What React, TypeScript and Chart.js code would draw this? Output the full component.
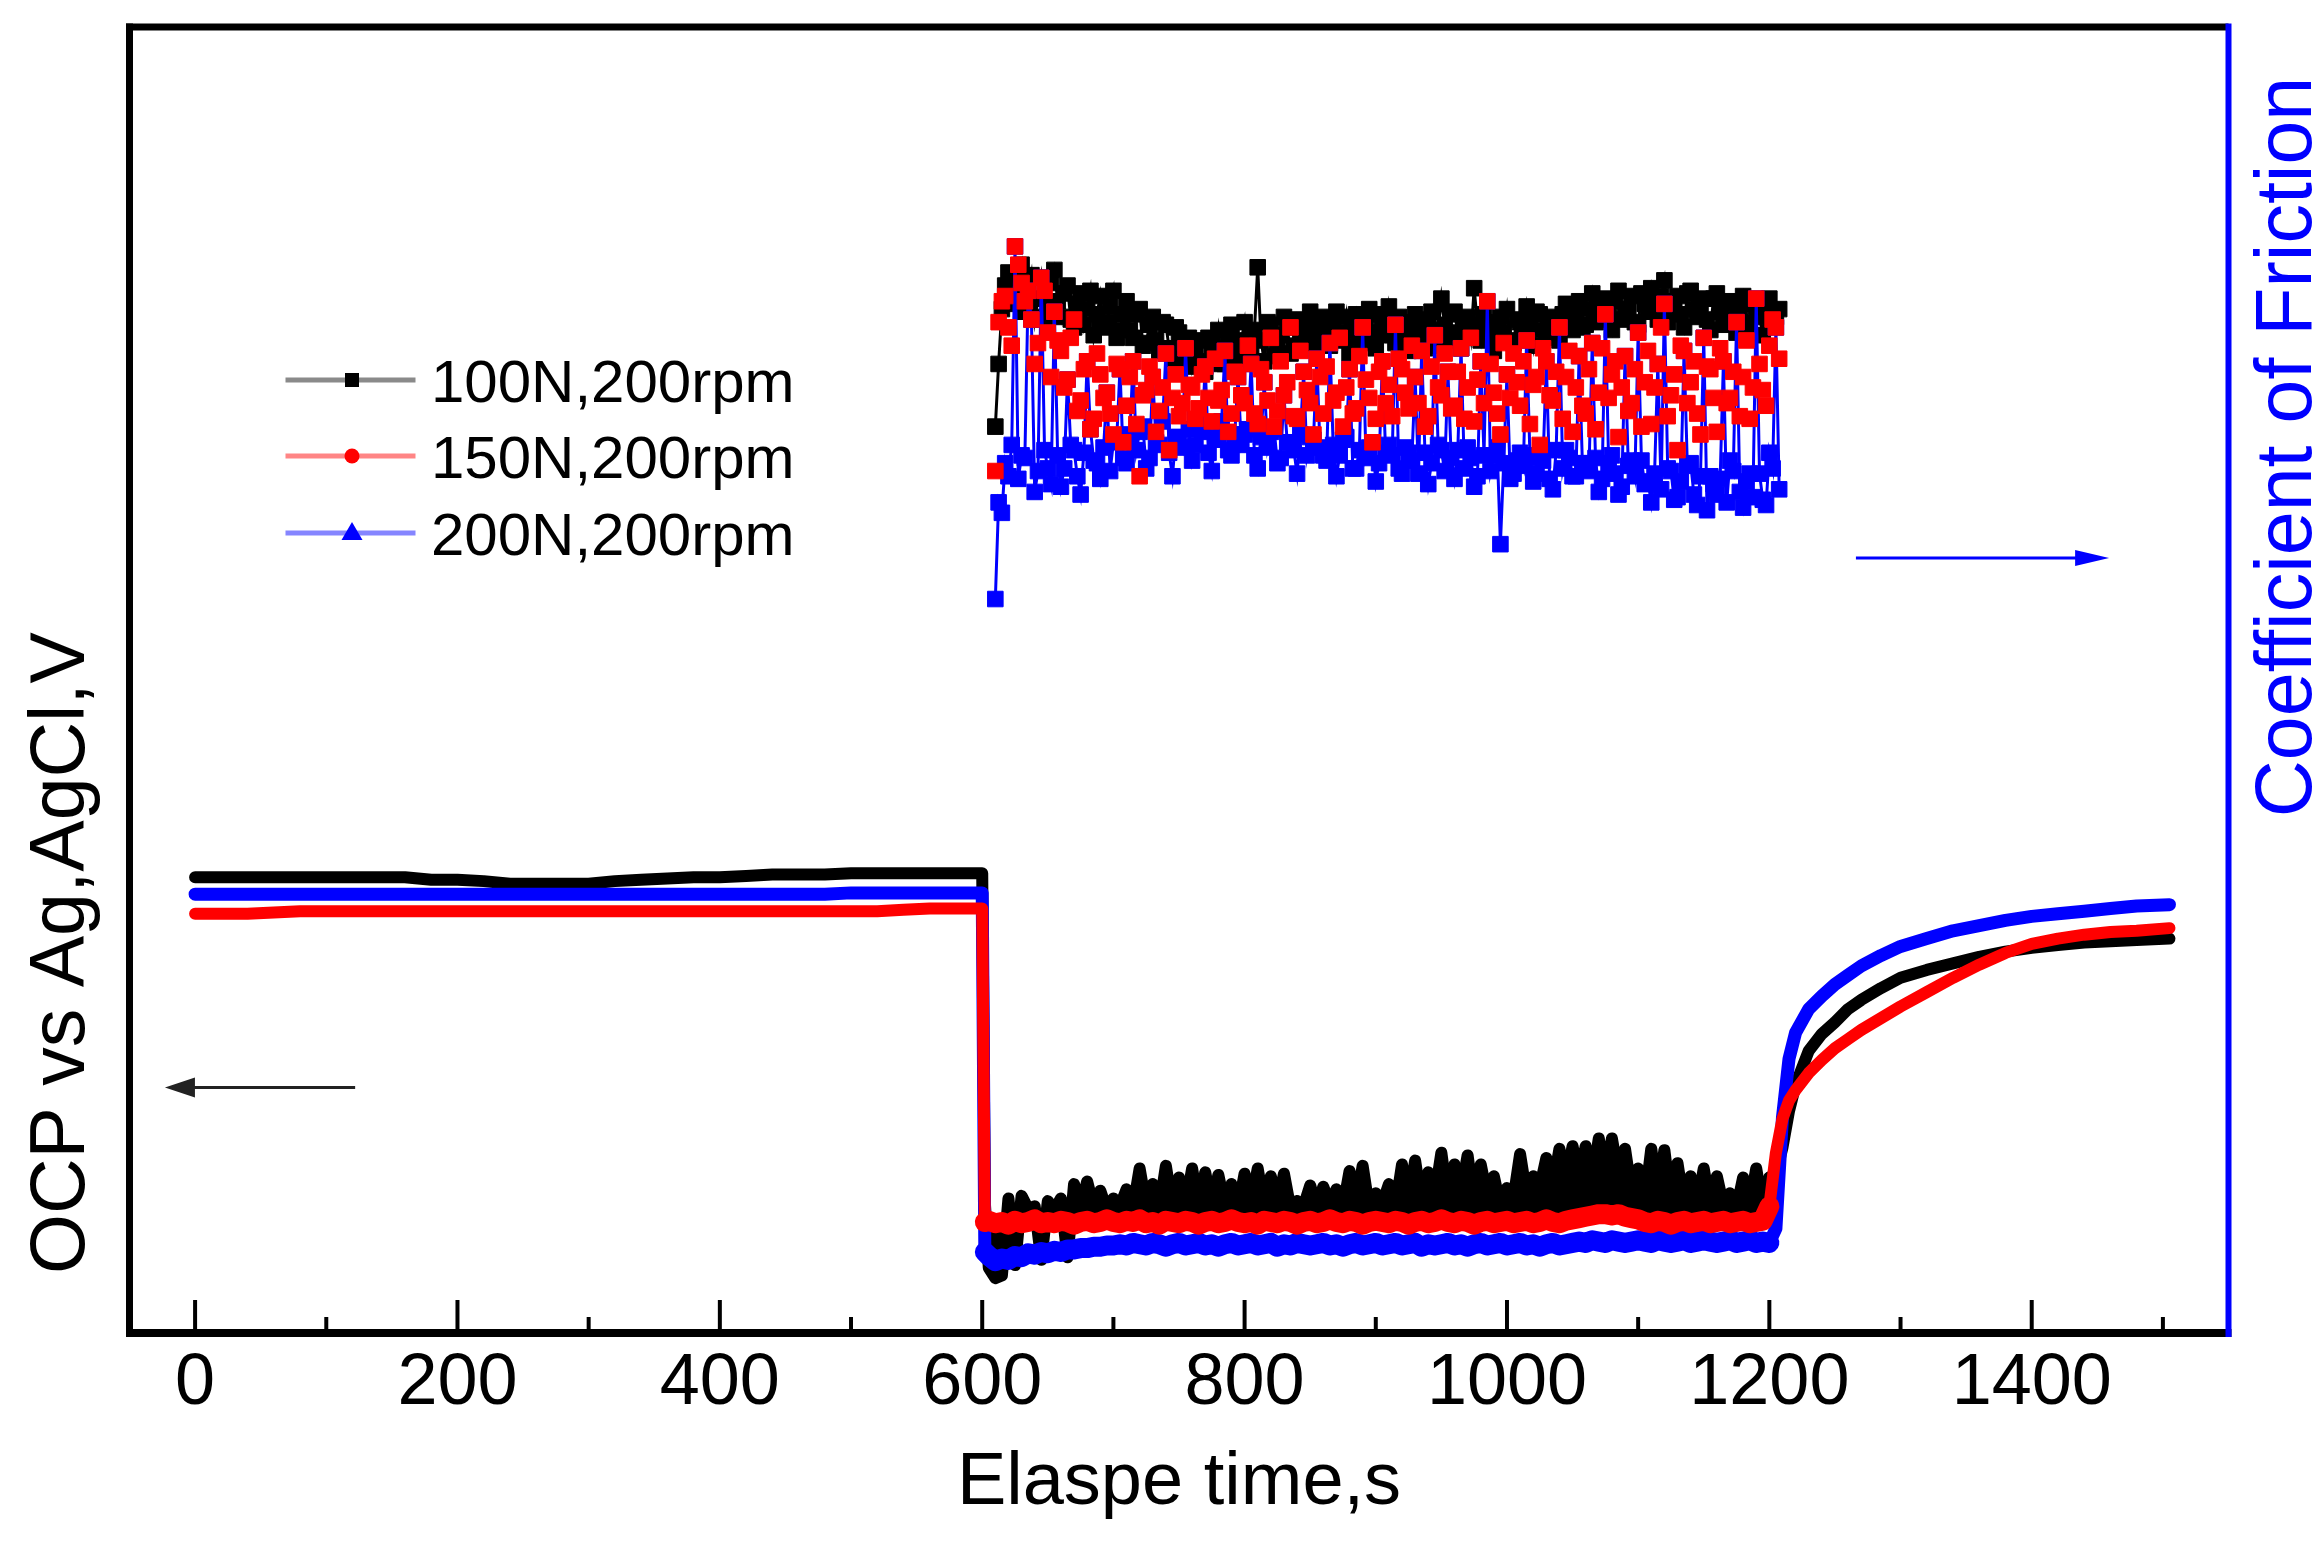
import React, { useEffect, useRef } from 'react';
import { Chart, registerables } from 'chart.js';

Chart.register(...registerables);

const FONT = "'Liberation Sans', Arial, sans-serif";

// ---- OCP (left axis, V) ----
const ocpTimePre = [0, 20, 40, 60, 80, 100, 120, 140, 160, 180, 200, 220, 240, 260, 280, 300, 320, 340, 360, 380, 400, 420, 440, 460, 480, 500, 520, 540, 560, 580, 600];
const ocpTimeSlide = [
  602,
  605, 610, 615, 620, 625, 630, 635, 640, 645, 650,
  655, 660, 665, 670, 675, 680, 685, 690, 695, 700,
  705, 710, 715, 720, 725, 730, 735, 740, 745, 750,
  755, 760, 765, 770, 775, 780, 785, 790, 795, 800,
  805, 810, 815, 820, 825, 830, 835, 840, 845, 850,
  855, 860, 865, 870, 875, 880, 885, 890, 895, 900,
  905, 910, 915, 920, 925, 930, 935, 940, 945, 950,
  955, 960, 965, 970, 975, 980, 985, 990, 995, 1000,
  1005, 1010, 1015, 1020, 1025, 1030, 1035, 1040, 1045, 1050,
  1055, 1060, 1065, 1070, 1075, 1080, 1085, 1090, 1095, 1100,
  1105, 1110, 1115, 1120, 1125, 1130, 1135, 1140, 1145, 1150,
  1155, 1160, 1165, 1170, 1175, 1180, 1185, 1190, 1195, 1200,
];
const ocpTimeRec = [1205, 1210, 1215, 1220, 1230, 1240, 1250, 1260, 1270, 1285, 1300, 1320, 1340, 1360, 1380, 1400, 1420, 1440, 1460, 1480, 1505];

const ocp100Pre = [-0.651, -0.651, -0.651, -0.651, -0.651, -0.651, -0.651, -0.651, -0.651, -0.653, -0.653, -0.654, -0.656, -0.656, -0.656, -0.656, -0.654, -0.653, -0.652, -0.651, -0.651, -0.65, -0.649, -0.649, -0.649, -0.648, -0.648, -0.648, -0.648, -0.648, -0.648];
const ocp100Slide = [
  -0.9,
  -0.95, -0.958, -0.956, -0.897, -0.948, -0.895, -0.905, -0.903, -0.944, -0.899,
  -0.906, -0.897, -0.942, -0.886, -0.905, -0.884, -0.904, -0.891, -0.906, -0.897,
  -0.903, -0.89, -0.904, -0.874, -0.903, -0.886, -0.905, -0.872, -0.904, -0.881,
  -0.903, -0.874, -0.905, -0.877, -0.904, -0.879, -0.903, -0.886, -0.905, -0.878,
  -0.902, -0.874, -0.904, -0.88, -0.903, -0.878, -0.905, -0.899, -0.903, -0.887,
  -0.905, -0.888, -0.902, -0.89, -0.904, -0.876, -0.903, -0.872, -0.905, -0.893,
  -0.901, -0.886, -0.904, -0.871, -0.9, -0.868, -0.902, -0.877, -0.895, -0.862,
  -0.9, -0.871, -0.893, -0.864, -0.902, -0.871, -0.896, -0.88, -0.903, -0.889,
  -0.897, -0.863, -0.895, -0.88, -0.889, -0.866, -0.888, -0.859, -0.884, -0.857,
  -0.882, -0.857, -0.884, -0.851, -0.882, -0.851, -0.88, -0.859, -0.893, -0.874,
  -0.9, -0.859, -0.896, -0.86, -0.901, -0.87, -0.903, -0.88, -0.902, -0.874,
  -0.904, -0.88, -0.903, -0.893, -0.905, -0.881, -0.902, -0.874, -0.904, -0.881,
];
const ocp100Rec = [-0.878, -0.858, -0.83, -0.81, -0.784, -0.771, -0.762, -0.752, -0.745, -0.736, -0.728, -0.722, -0.717, -0.712, -0.708, -0.705, -0.703, -0.701, -0.7, -0.699, -0.698];

const ocp150Pre = [-0.679, -0.679, -0.679, -0.678, -0.677, -0.677, -0.677, -0.677, -0.677, -0.677, -0.677, -0.677, -0.677, -0.677, -0.677, -0.677, -0.677, -0.677, -0.677, -0.677, -0.677, -0.677, -0.677, -0.677, -0.677, -0.677, -0.677, -0.676, -0.675, -0.675, -0.675];
const ocp150Slide = [
  -0.915,
  -0.914, -0.916, -0.915, -0.917, -0.914, -0.916, -0.915, -0.913, -0.916, -0.915,
  -0.916, -0.914, -0.915, -0.917, -0.915, -0.914, -0.916, -0.915, -0.913, -0.915,
  -0.916, -0.914, -0.915, -0.913, -0.916, -0.915, -0.917, -0.914, -0.915, -0.916,
  -0.914, -0.915, -0.917, -0.915, -0.914, -0.916, -0.915, -0.913, -0.915, -0.916,
  -0.915, -0.917, -0.914, -0.915, -0.916, -0.914, -0.915, -0.917, -0.915, -0.914,
  -0.916, -0.915, -0.913, -0.915, -0.916, -0.914, -0.915, -0.917, -0.915, -0.914,
  -0.915, -0.916, -0.914, -0.915, -0.917, -0.915, -0.914, -0.916, -0.915, -0.913,
  -0.915, -0.916, -0.914, -0.915, -0.917, -0.915, -0.914, -0.916, -0.915, -0.914,
  -0.916, -0.915, -0.914, -0.916, -0.915, -0.913, -0.915, -0.916, -0.914, -0.913,
  -0.912, -0.911, -0.91, -0.909, -0.909, -0.91, -0.909, -0.911, -0.912, -0.913,
  -0.915, -0.916, -0.914, -0.915, -0.917, -0.915, -0.914, -0.916, -0.915, -0.914,
  -0.916, -0.915, -0.914, -0.916, -0.915, -0.914, -0.916, -0.915, -0.914, -0.903,
];
const ocp150Rec = [-0.862, -0.836, -0.822, -0.814, -0.801, -0.791, -0.782, -0.775, -0.768, -0.759, -0.75, -0.739, -0.728, -0.718, -0.709, -0.702, -0.698, -0.695, -0.693, -0.692, -0.69];

const ocp200Pre = [-0.664, -0.664, -0.664, -0.664, -0.664, -0.664, -0.664, -0.664, -0.664, -0.664, -0.664, -0.664, -0.664, -0.664, -0.664, -0.664, -0.664, -0.664, -0.664, -0.664, -0.664, -0.664, -0.664, -0.664, -0.664, -0.663, -0.663, -0.663, -0.663, -0.663, -0.663];
const ocp200Slide = [
  -0.938,
  -0.941, -0.945, -0.943, -0.944, -0.941, -0.942, -0.939, -0.94, -0.938, -0.939,
  -0.937, -0.938, -0.936, -0.936, -0.935, -0.935, -0.934, -0.934, -0.933, -0.933,
  -0.932, -0.933, -0.931, -0.932, -0.933, -0.931, -0.932, -0.934, -0.932, -0.931,
  -0.933, -0.932, -0.931, -0.933, -0.932, -0.934, -0.932, -0.931, -0.933, -0.932,
  -0.931, -0.933, -0.932, -0.931, -0.934, -0.932, -0.933, -0.931, -0.932, -0.933,
  -0.932, -0.931, -0.933, -0.932, -0.934, -0.932, -0.931, -0.933, -0.932, -0.931,
  -0.933, -0.932, -0.931, -0.933, -0.932, -0.931, -0.934, -0.932, -0.933, -0.932,
  -0.931, -0.933, -0.932, -0.934, -0.932, -0.931, -0.933, -0.932, -0.931, -0.933,
  -0.932, -0.931, -0.933, -0.932, -0.934, -0.932, -0.931, -0.933, -0.932, -0.931,
  -0.93, -0.931, -0.929, -0.93, -0.931, -0.929, -0.93, -0.931, -0.93, -0.929,
  -0.93, -0.931, -0.929, -0.93, -0.931, -0.93, -0.929, -0.931, -0.93, -0.929,
  -0.93, -0.931, -0.93, -0.929, -0.931, -0.93, -0.929, -0.931, -0.93, -0.931,
];
const ocp200Rec = [-0.92, -0.835, -0.79, -0.77, -0.752, -0.742, -0.733, -0.726, -0.719, -0.711, -0.704, -0.698, -0.692, -0.688, -0.684, -0.681, -0.679, -0.677, -0.675, -0.673, -0.672];

// ---- Coefficient of friction (right axis) ----
// samples on the 5 s grid
const cofTime = [
  610, 615, 620, 625, 630, 635, 640, 645, 650, 655,
  660, 665, 670, 675, 680, 685, 690, 695, 700, 705,
  710, 715, 720, 725, 730, 735, 740, 745, 750, 755,
  760, 765, 770, 775, 780, 785, 790, 795, 800, 805,
  810, 815, 820, 825, 830, 835, 840, 845, 850, 855,
  860, 865, 870, 875, 880, 885, 890, 895, 900, 905,
  910, 915, 920, 925, 930, 935, 940, 945, 950, 955,
  960, 965, 970, 975, 980, 985, 990, 995, 1000, 1005,
  1010, 1015, 1020, 1025, 1030, 1035, 1040, 1045, 1050, 1055,
  1060, 1065, 1070, 1075, 1080, 1085, 1090, 1095, 1100, 1105,
  1110, 1115, 1120, 1125, 1130, 1135, 1140, 1145, 1150, 1155,
  1160, 1165, 1170, 1175, 1180, 1185, 1190, 1195, 1200, 1205,
];
const cof100 = [
  0.347, 0.392, 0.406, 0.394, 0.409, 0.398, 0.388, 0.404, 0.393, 0.407,
  0.389, 0.401, 0.385, 0.398, 0.392, 0.382, 0.397, 0.387, 0.399, 0.384,
  0.395, 0.381, 0.392, 0.379, 0.389, 0.376, 0.386, 0.373, 0.383, 0.378,
  0.37, 0.38, 0.368, 0.377, 0.384, 0.371, 0.386, 0.374, 0.387, 0.376,
  0.408, 0.372, 0.386, 0.377, 0.389, 0.375, 0.388, 0.379, 0.391, 0.376,
  0.389, 0.378, 0.391, 0.38, 0.375, 0.39, 0.379, 0.392, 0.377, 0.388,
  0.393, 0.379, 0.387, 0.376, 0.39, 0.381, 0.386, 0.378, 0.396, 0.38,
  0.391, 0.377, 0.389, 0.4, 0.38, 0.385, 0.376, 0.389, 0.392, 0.379,
  0.387, 0.393, 0.378, 0.39, 0.382, 0.388, 0.38, 0.394, 0.384, 0.395,
  0.386, 0.398, 0.388, 0.396, 0.384, 0.399, 0.39, 0.397, 0.386, 0.394,
  0.4, 0.388, 0.403, 0.391, 0.397, 0.385, 0.399, 0.389, 0.396, 0.384,
  0.398, 0.386, 0.395, 0.383, 0.397, 0.387, 0.393, 0.382, 0.396, 0.389,
];
const cof150 = [
  0.33, 0.395, 0.385, 0.416, 0.402, 0.399, 0.371, 0.404, 0.383, 0.391,
  0.376, 0.365, 0.388, 0.357, 0.372, 0.35, 0.367, 0.36, 0.344, 0.369,
  0.355, 0.372, 0.328, 0.361, 0.366, 0.353, 0.375, 0.358, 0.351, 0.377,
  0.362, 0.354, 0.37, 0.349, 0.357, 0.376, 0.352, 0.366, 0.356, 0.371,
  0.348, 0.364, 0.381, 0.353, 0.359, 0.385, 0.35, 0.368, 0.356, 0.373,
  0.352, 0.379, 0.36, 0.347, 0.369, 0.354, 0.385, 0.358, 0.35, 0.372,
  0.363, 0.386, 0.369, 0.354, 0.366, 0.376, 0.351, 0.382, 0.359, 0.368,
  0.355, 0.377, 0.362, 0.349, 0.372, 0.395, 0.36, 0.344, 0.367, 0.375,
  0.355, 0.38, 0.363, 0.34, 0.372, 0.357, 0.385, 0.366, 0.345, 0.374,
  0.352, 0.379, 0.36, 0.39, 0.367, 0.343, 0.374, 0.356, 0.383, 0.364,
  0.348, 0.371, 0.394, 0.359, 0.338, 0.376, 0.364, 0.352, 0.381, 0.369,
  0.345, 0.372, 0.358, 0.387, 0.366, 0.35, 0.396, 0.361, 0.378, 0.385,
];
const cof200 = [
  0.281, 0.314, 0.328, 0.416, 0.336, 0.399, 0.322, 0.404, 0.331, 0.391,
  0.324, 0.365, 0.338, 0.321, 0.372, 0.334, 0.327, 0.36, 0.341, 0.369,
  0.333, 0.372, 0.345, 0.331, 0.366, 0.34, 0.375, 0.328, 0.343, 0.377,
  0.334, 0.346, 0.37, 0.33, 0.342, 0.376, 0.336, 0.366, 0.344, 0.371,
  0.331, 0.364, 0.345, 0.333, 0.359, 0.341, 0.329, 0.368, 0.343, 0.373,
  0.336, 0.379, 0.328, 0.342, 0.369, 0.331, 0.385, 0.339, 0.326, 0.372,
  0.34, 0.386, 0.329, 0.337, 0.366, 0.376, 0.325, 0.382, 0.338, 0.368,
  0.327, 0.377, 0.339, 0.324, 0.372, 0.395, 0.336, 0.302, 0.367, 0.329,
  0.337, 0.38, 0.326, 0.335, 0.372, 0.323, 0.385, 0.338, 0.328, 0.374,
  0.333, 0.379, 0.322, 0.39, 0.336, 0.321, 0.374, 0.334, 0.383, 0.325,
  0.318, 0.371, 0.394, 0.33, 0.32, 0.376, 0.333, 0.317, 0.381, 0.328,
  0.321, 0.372, 0.334, 0.387, 0.316, 0.329, 0.396, 0.319, 0.337, 0.385,
];
// samples half-way between the 5 s grid
const cofTimeMid = [
  612.5, 617.5, 622.5, 627.5, 632.5, 637.5, 642.5, 647.5, 652.5, 657.5,
  662.5, 667.5, 672.5, 677.5, 682.5, 687.5, 692.5, 697.5, 702.5, 707.5,
  712.5, 717.5, 722.5, 727.5, 732.5, 737.5, 742.5, 747.5, 752.5, 757.5,
  762.5, 767.5, 772.5, 777.5, 782.5, 787.5, 792.5, 797.5, 802.5, 807.5,
  812.5, 817.5, 822.5, 827.5, 832.5, 837.5, 842.5, 847.5, 852.5, 857.5,
  862.5, 867.5, 872.5, 877.5, 882.5, 887.5, 892.5, 897.5, 902.5, 907.5,
  912.5, 917.5, 922.5, 927.5, 932.5, 937.5, 942.5, 947.5, 952.5, 957.5,
  962.5, 967.5, 972.5, 977.5, 982.5, 987.5, 992.5, 997.5, 1002.5, 1007.5,
  1012.5, 1017.5, 1022.5, 1027.5, 1032.5, 1037.5, 1042.5, 1047.5, 1052.5, 1057.5,
  1062.5, 1067.5, 1072.5, 1077.5, 1082.5, 1087.5, 1092.5, 1097.5, 1102.5, 1107.5,
  1112.5, 1117.5, 1122.5, 1127.5, 1132.5, 1137.5, 1142.5, 1147.5, 1152.5, 1157.5,
  1162.5, 1167.5, 1172.5, 1177.5, 1182.5, 1187.5, 1192.5, 1197.5, 1202.5, 1207.5,
];
const cof100Mid = [
  0.371, 0.401, 0.397, 0.404, 0.391, 0.405, 0.396, 0.389, 0.402, 0.395,
  0.398, 0.388, 0.394, 0.386, 0.399, 0.39, 0.385, 0.393, 0.381, 0.39,
  0.384, 0.39, 0.378, 0.386, 0.38, 0.387, 0.377, 0.385, 0.372, 0.381,
  0.377, 0.372, 0.381, 0.375, 0.371, 0.382, 0.378, 0.38, 0.373, 0.384,
  0.38, 0.387, 0.374, 0.382, 0.385, 0.378, 0.383, 0.387, 0.381, 0.386,
  0.38, 0.386, 0.383, 0.389, 0.384, 0.381, 0.387, 0.383, 0.39, 0.382,
  0.385, 0.389, 0.381, 0.384, 0.388, 0.377, 0.391, 0.384, 0.386, 0.39,
  0.383, 0.387, 0.381, 0.386, 0.39, 0.382, 0.387, 0.383, 0.38, 0.388,
  0.381, 0.386, 0.391, 0.384, 0.389, 0.381, 0.39, 0.386, 0.391, 0.385,
  0.392, 0.387, 0.393, 0.389, 0.395, 0.388, 0.392, 0.387, 0.398, 0.391,
  0.393, 0.397, 0.387, 0.395, 0.39, 0.398, 0.392, 0.394, 0.388, 0.396,
  0.391, 0.394, 0.388, 0.392, 0.386, 0.394, 0.389, 0.392, 0.386, 0.392,
];
const cof150Mid = [
  0.387, 0.397, 0.378, 0.409, 0.395, 0.388, 0.379, 0.399, 0.366, 0.38,
  0.362, 0.381, 0.353, 0.369, 0.346, 0.375, 0.358, 0.352, 0.371, 0.341,
  0.366, 0.348, 0.359, 0.37, 0.345, 0.362, 0.338, 0.367, 0.356, 0.363,
  0.35, 0.367, 0.358, 0.373, 0.361, 0.345, 0.368, 0.359, 0.378, 0.352,
  0.369, 0.357, 0.347, 0.372, 0.364, 0.351, 0.376, 0.361, 0.344, 0.366,
  0.37, 0.357, 0.381, 0.362, 0.352, 0.374, 0.365, 0.341, 0.368, 0.356,
  0.351, 0.373, 0.36, 0.378, 0.356, 0.347, 0.37, 0.362, 0.375, 0.354,
  0.368, 0.35, 0.381, 0.365, 0.356, 0.371, 0.352, 0.379, 0.358, 0.364,
  0.372, 0.348, 0.366, 0.377, 0.359, 0.368, 0.35, 0.376, 0.362, 0.355,
  0.369, 0.346, 0.377, 0.358, 0.372, 0.362, 0.353, 0.369, 0.347, 0.376,
  0.362, 0.385, 0.351, 0.367, 0.378, 0.356, 0.372, 0.344, 0.37, 0.358,
  0.377, 0.356, 0.368, 0.351, 0.38, 0.362, 0.371, 0.355, 0.388, 0.373,
];
const cof200Mid = [
  0.318, 0.333, 0.34, 0.327, 0.335, 0.388, 0.33, 0.338, 0.325, 0.336,
  0.331, 0.34, 0.328, 0.337, 0.346, 0.333, 0.339, 0.33, 0.342, 0.335,
  0.344, 0.338, 0.347, 0.335, 0.341, 0.349, 0.337, 0.343, 0.339, 0.346,
  0.34, 0.345, 0.337, 0.343, 0.349, 0.338, 0.344, 0.34, 0.346, 0.336,
  0.343, 0.339, 0.346, 0.335, 0.341, 0.338, 0.344, 0.336, 0.342, 0.339,
  0.334, 0.34, 0.336, 0.343, 0.331, 0.338, 0.335, 0.341, 0.333, 0.337,
  0.336, 0.331, 0.339, 0.334, 0.329, 0.337, 0.333, 0.34, 0.33, 0.335,
  0.338, 0.331, 0.335, 0.328, 0.336, 0.33, 0.339, 0.333, 0.327, 0.334,
  0.332, 0.336, 0.329, 0.334, 0.327, 0.338, 0.331, 0.335, 0.328, 0.333,
  0.33, 0.335, 0.327, 0.333, 0.329, 0.324, 0.332, 0.328, 0.334, 0.326,
  0.329, 0.323, 0.331, 0.319, 0.326, 0.332, 0.321, 0.328, 0.315, 0.325,
  0.327, 0.318, 0.33, 0.322, 0.326, 0.32, 0.329, 0.317, 0.331, 0.323,
];

const seriesLabels = ['100N,200rpm', '150N,200rpm', '200N,200rpm'];
const seriesColors = ['#000000', '#ff0000', '#0000ff'];
const legendLineColors = ['#8a8a8a', '#ff8585', '#8585ff'];

const xMajorTicks = [0, 200, 400, 600, 800, 1000, 1200, 1400];
const xMinorTicks = [100, 300, 500, 700, 900, 1100, 1300, 1500];

// sliding window (s) where the OCP bands are noisier
const slideWindow = [602, 1200];

// arrows: [tail, tip] in seconds, level on own axis
const ocpArrowX = [122, -23];
const ocpArrowY = -0.812;
const cofArrowX = [1266, 1459];
const cofArrowY = 0.2967;

const pts = (xs: number[], ys: number[]) => xs.map((x, i) => ({ x, y: ys[i] }));
const interleave = (a: number[], b: number[]) => a.flatMap((v, i) => [v, b[i]]);

const ocpTime = [...ocpTimePre, ...ocpTimeSlide, ...ocpTimeRec];
const ocp100 = [...ocp100Pre, ...ocp100Slide, ...ocp100Rec];
const ocp150 = [...ocp150Pre, ...ocp150Slide, ...ocp150Rec];
const ocp200 = [...ocp200Pre, ...ocp200Slide, ...ocp200Rec];

const cofTimeAll = interleave(cofTime, cofTimeMid);
const cof100All = interleave(cof100, cof100Mid);
const cof150All = interleave(cof150, cof150Mid);
const cof200All = interleave(cof200, cof200Mid);

const inSlide = (c: any) => c.p0.parsed.x >= slideWindow[0] && c.p1.parsed.x <= slideWindow[1];

const overlayPlugin = {
  id: 'overlay',
  afterDraw(chart: any) {
    const { ctx, chartArea: a, scales } = chart;
    const x = scales.x;
    const line = (x1: number, y1: number, x2: number, y2: number) => {
      ctx.beginPath();
      ctx.moveTo(x1, y1);
      ctx.lineTo(x2, y2);
      ctx.stroke();
    };
    ctx.save();

    // inward x ticks
    ctx.strokeStyle = '#000';
    ctx.lineWidth = 4;
    xMajorTicks.forEach(v => { const px = x.getPixelForValue(v); line(px, a.bottom, px, a.bottom - 33); });
    xMinorTicks.forEach(v => { const px = x.getPixelForValue(v); line(px, a.bottom, px, a.bottom - 16); });

    // frame
    ctx.lineWidth = 7;
    line(a.left, a.top - 3.5, a.left, a.bottom + 4);
    line(a.left - 3.5, a.top, a.right, a.top);
    ctx.lineWidth = 8;
    line(a.left - 3.5, a.bottom, a.right + 3, a.bottom);
    ctx.strokeStyle = '#0000ff';
    ctx.lineWidth = 6;
    line(a.right, a.top - 3.5, a.right, a.bottom + 4);

    // arrows
    const arrow = (x1: number, x2: number, y: number, color: string, head: number, half: number) => {
      const dir = Math.sign(x2 - x1);
      ctx.strokeStyle = color;
      ctx.fillStyle = color;
      ctx.lineWidth = 3;
      line(x1, y, x2 - dir * head * 0.7, y);
      ctx.beginPath();
      ctx.moveTo(x2, y);
      ctx.lineTo(x2 - dir * head, y - half);
      ctx.lineTo(x2 - dir * head, y + half);
      ctx.closePath();
      ctx.fill();
    };
    arrow(x.getPixelForValue(ocpArrowX[0]), x.getPixelForValue(ocpArrowX[1]), scales.yL.getPixelForValue(ocpArrowY), '#222', 30, 10);
    arrow(x.getPixelForValue(cofArrowX[0]), x.getPixelForValue(cofArrowX[1]), scales.yR.getPixelForValue(cofArrowY), '#0000ff', 34, 8);

    // legend
    const lx0 = a.left + 156, lx1 = a.left + 286, mx = a.left + 222.5, tx = a.left + 301.5;
    const ly = [a.top + 353, a.top + 429, a.top + 506];
    seriesLabels.forEach((label, i) => {
      const y = ly[i];
      ctx.strokeStyle = legendLineColors[i];
      ctx.lineWidth = 5;
      line(lx0, y, lx1, y);
      ctx.fillStyle = seriesColors[i];
      ctx.beginPath();
      if (i === 0) ctx.rect(mx - 7, y - 7, 14, 14);
      else if (i === 1) ctx.arc(mx, y, 7.5, 0, Math.PI * 2);
      else { ctx.moveTo(mx, y - 11); ctx.lineTo(mx + 10.5, y + 7); ctx.lineTo(mx - 10.5, y + 7); ctx.closePath(); }
      ctx.fill();
      ctx.fillStyle = '#000';
      ctx.font = `60px ${FONT}`;
      ctx.textAlign = 'left';
      ctx.textBaseline = 'alphabetic';
      ctx.fillText(label, tx, y + 22);
    });

    // axis titles
    ctx.fillStyle = '#000';
    ctx.textAlign = 'center';
    ctx.textBaseline = 'alphabetic';
    ctx.font = `74px ${FONT}`;
    ctx.fillText('Elaspe time,s', (a.left + a.right) / 2, a.bottom + 171);

    ctx.save();
    ctx.translate(a.left - 45.5, a.top + 926);
    ctx.rotate(-Math.PI / 2);
    ctx.font = `77px ${FONT}`;
    ctx.fillText('OCP vs Ag,AgCl,V', 0, 0);
    ctx.restore();

    ctx.save();
    ctx.translate(a.right + 82, a.top + 420);
    ctx.rotate(-Math.PI / 2);
    ctx.fillStyle = '#0000ff';
    ctx.font = `79px ${FONT}`;
    ctx.fillText('Coefficient of Friction', 0, 0);
    ctx.restore();

    ctx.restore();
  },
};

export default function App() {
  const canvasRef = useRef<HTMLCanvasElement>(null);

  useEffect(() => {
    if (!canvasRef.current) return;
    const ocpLine = (data: number[], color: string, order: number, width: number, slideWidth: number) => ({
      data: pts(ocpTime, data),
      yAxisID: 'yL',
      borderColor: color,
      backgroundColor: color,
      borderWidth: width,
      borderJoinStyle: 'round',
      borderCapStyle: 'round',
      pointRadius: 0,
      tension: 0,
      order,
      segment: { borderWidth: (c: any) => (inSlide(c) ? slideWidth : width) },
    });
    const cofLine = (data: number[], color: string, order: number, width: number) => ({
      data: pts(cofTimeAll, data),
      yAxisID: 'yR',
      borderColor: color,
      backgroundColor: color,
      borderWidth: width,
      showLine: width > 0,
      pointStyle: 'rect',
      pointRadius: 11,
      pointBorderWidth: 1,
      pointBorderColor: color,
      pointBackgroundColor: color,
      tension: 0,
      order,
    });

    // black OCP: solid band down to the red curve while sliding
    const ocpBlack: any = ocpLine(ocp100, seriesColors[0], 5, 12, 12);
    ocpBlack.fill = 3;
    ocpBlack.backgroundColor = 'rgba(0,0,0,0)';
    ocpBlack.segment.backgroundColor = (c: any) => (inSlide(c) ? '#000000' : 'rgba(0,0,0,0)');

    const chart = new Chart(canvasRef.current, {
      type: 'line',
      data: {
        datasets: [
          cofLine(cof150All, seriesColors[1], 0, 0),
          cofLine(cof200All, seriesColors[2], 1, 3),
          cofLine(cof100All, seriesColors[0], 2, 3),
          ocpLine(ocp150, seriesColors[1], 3, 12, 20),
          ocpLine(ocp200, seriesColors[2], 4, 13, 20),
          ocpBlack,
        ] as any,
      },
      options: {
        responsive: false,
        devicePixelRatio: 1,
        animation: false,
        events: [],
        layout: { padding: { left: 129.5, right: 94.5, top: 27, bottom: 110.6 } },
        scales: {
          x: {
            type: 'linear',
            min: -50,
            max: 1550,
            afterBuildTicks: (s: any) => { s.ticks = xMajorTicks.map(v => ({ value: v })); },
            ticks: {
              callback: (v: any) => String(v),
              color: '#000',
              font: { family: FONT, size: 72 },
              padding: 8,
              maxRotation: 0,
              autoSkip: false,
            },
            grid: { display: false, drawTicks: false },
            border: { display: false },
          },
          yL: { type: 'linear', position: 'left', min: -1, max: 0, display: false },
          yR: { type: 'linear', position: 'right', min: 0, max: 0.5, display: false },
        },
        plugins: {
          legend: { display: false },
          tooltip: { enabled: false },
        },
      } as any,
      plugins: [overlayPlugin],
    });
    return () => chart.destroy();
  }, []);

  return (
    <div style={{ position: 'absolute', left: 0, top: 0, width: 2323, height: 1546, background: '#fff' }}>
      <canvas ref={canvasRef} width={2323} height={1546} style={{ display: 'block' }} />
    </div>
  );
}
